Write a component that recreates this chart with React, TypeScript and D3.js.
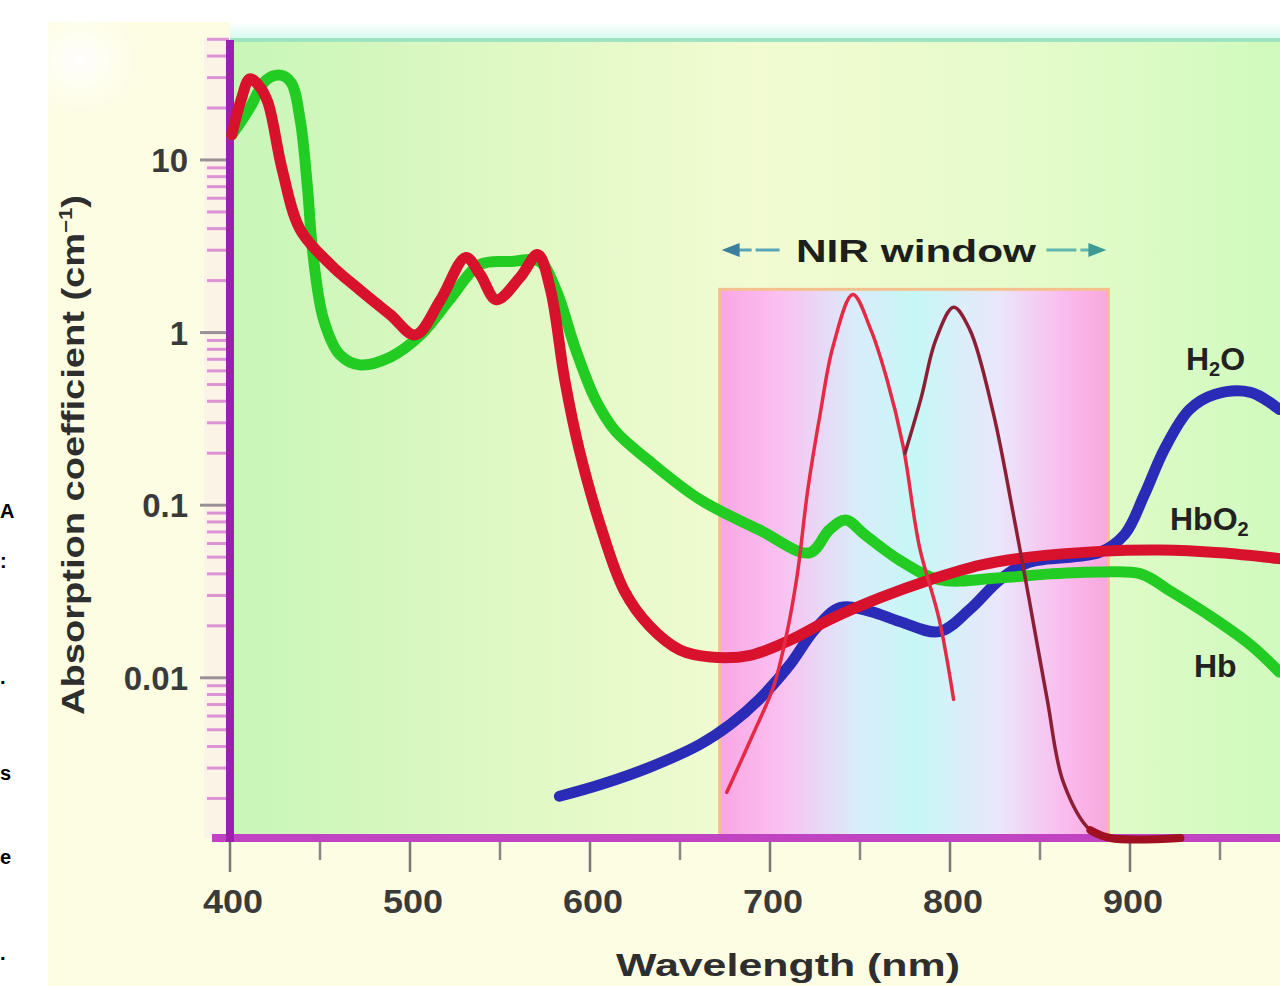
import React from "react";
import * as d3 from "d3";

// wavelength (nm), absorption coefficient (cm^-1)
const hbData: [number, number][] = [
  [401, 14], [405, 16], [411, 20], [420, 29], [428, 31], [434, 28], [439, 17], [443, 7.0],
  [446, 2.9], [452, 1.19], [461, 0.745], [472, 0.65], [489, 0.72], [506, 0.97],
  [522, 1.55], [539, 2.48], [556, 2.58], [572, 2.58], [581, 1.78], [592, 0.8],
  [603, 0.41], [614, 0.27], [633, 0.18], [661, 0.108], [694, 0.072], [722, 0.053],
  [733, 0.072], [742, 0.082], [753, 0.067], [772, 0.048], [794, 0.037], [828, 0.038],
  [856, 0.04], [883, 0.041], [906, 0.04], [922, 0.032], [944, 0.023], [967, 0.0155],
  [983, 0.0108],
];

const hbo2Data: [number, number][] = [
  [401, 14], [406, 22], [411, 29.5], [416, 27], [421, 21.6], [429, 8.8], [439, 3.95],
  [456, 2.47], [472, 1.77], [489, 1.27], [503, 0.97], [517, 1.55], [531, 2.72],
  [539, 2.17], [548, 1.55], [561, 2.08], [571, 2.83], [578, 1.78], [586, 0.53],
  [594, 0.21], [606, 0.075], [619, 0.032], [633, 0.02], [650, 0.0145], [667, 0.0132],
  [689, 0.0135], [711, 0.0165], [733, 0.0217], [761, 0.029], [789, 0.037], [817, 0.045],
  [844, 0.05], [883, 0.054], [917, 0.055], [950, 0.053], [983, 0.049],
];

const h2oData: [number, number][] = [
  [583, 0.00206], [606, 0.00241], [633, 0.00303], [661, 0.00411], [678, 0.00537],
  [694, 0.0075], [711, 0.0119], [725, 0.0191], [739, 0.0255], [756, 0.0242],
  [772, 0.0212], [794, 0.0185], [811, 0.0249], [828, 0.0372], [844, 0.0466],
  [883, 0.0532], [897, 0.0676], [908, 0.115], [919, 0.21], [933, 0.358], [947, 0.438],
  [967, 0.45], [983, 0.358],
];

const fluor1Data: [number, number][] = [
  [676, 0.00217], [691, 0.00482], [702, 0.0089], [709, 0.0174], [715, 0.0386],
  [721, 0.123], [728, 0.344], [735, 0.83], [746, 1.66], [756, 1.04], [765, 0.534],
  [774, 0.219], [783, 0.0576], [794, 0.0218], [802, 0.0075],
];

const fluor2Data: [number, number][] = [
  [775, 0.2], [784, 0.42], [792, 0.9], [802, 1.4], [811, 1.04],
  [824, 0.344], [835, 0.091], [844, 0.0283], [854, 0.0075], [863, 0.00248],
  [878, 0.00131], [889, 0.00118], [928, 0.00118],
];

const nirWindow = [672, 888];
const nirTop = 1.78;

const xTicks = [400, 500, 600, 700, 800, 900, 1000];
const xMinorTicks = [450, 550, 650, 750, 850, 950];
const yTicks = [10, 1, 0.1, 0.01];
const yTickLabels = ["10", "1", "0.1", "0.01"];

const sideText = [
  { t: "A", y: 518 },
  { t: ":", y: 568 },
  { t: ".", y: 684 },
  { t: "s", y: 780 },
  { t: "e", y: 864 },
  { t: ".", y: 960 },
];

const W = 1280;
const H = 986;
const left = 230;
const bottom = 838;
const top = 40;

const x = d3.scaleLinear().domain([400, 1000]).range([left, 1310]);
const y = d3.scaleLog().domain([0.00118, 50]).range([bottom, 39.3]);

const line = d3
  .line<[number, number]>()
  .x((d) => x(d[0]))
  .y((d) => y(d[1]))
  .curve(d3.curveCatmullRom.alpha(0.5));

// minor log ticks
const yMinor: number[] = [];
for (let e = -3; e <= 1; e++) {
  for (let k = 1; k <= 9; k++) {
    const v = k * Math.pow(10, e);
    if (v >= 0.0012 && v <= 50 && k !== 1) yMinor.push(v);
  }
}

const bold = "'Liberation Sans', Arial, sans-serif";

export default function App() {
  const nx0 = x(nirWindow[0]);
  const nx1 = x(nirWindow[1]);
  const ny = y(nirTop);
  return (
    <div style={{ position: "absolute", left: 0, top: 0 }}>
      <svg width={W} height={H} style={{ display: "block" }}>
        <defs>
          <linearGradient id="plotbg" x1="0" x2="1" y1="0" y2="0">
            <stop offset="0%" stopColor="#c8f6b8" />
            <stop offset="30%" stopColor="#e2f9c6" />
            <stop offset="50%" stopColor="#f2fbd2" />
            <stop offset="75%" stopColor="#e6fbcb" />
            <stop offset="100%" stopColor="#d0fabe" />
          </linearGradient>
          <linearGradient id="nirbg" x1="0" x2="1" y1="0" y2="0">
            <stop offset="0%" stopColor="#f9a6e4" />
            <stop offset="15%" stopColor="#fbbff0" />
            <stop offset="35%" stopColor="#d9ecfa" />
            <stop offset="50%" stopColor="#c6f7f6" />
            <stop offset="72%" stopColor="#ebe6fb" />
            <stop offset="90%" stopColor="#fbb8ec" />
            <stop offset="100%" stopColor="#f8a8dc" />
          </linearGradient>
          <linearGradient id="topband" x1="0" x2="0" y1="0" y2="1">
            <stop offset="0%" stopColor="#ffffff" />
            <stop offset="100%" stopColor="#d2f9ee" />
          </linearGradient>
          <radialGradient id="cornerfade" cx="0.5" cy="0.5" r="0.5">
            <stop offset="0%" stopColor="#ffffff" stopOpacity={0.9} />
            <stop offset="100%" stopColor="#ffffff" stopOpacity={0} />
          </radialGradient>
          <clipPath id="plotclip">
            <rect x={left - 4} y={top - 2} width={W - left + 4} height={bottom - top + 8} />
          </clipPath>
        </defs>

        <rect x={0} y={0} width={W} height={H} fill="#ffffff" />
        <rect x={48} y={22} width={W - 48} height={H - 22} fill="#fdfde4" />
        <ellipse cx={80} cy={60} rx={60} ry={55} fill="url(#cornerfade)" />
        <rect x={left} y={22} width={W - left} height={top - 22} fill="url(#topband)" />

        {sideText.map((s, i) => (
          <text
            key={i}
            x={0}
            y={s.y}
            textAnchor="start"
            fontFamily={bold}
            fontWeight="bold"
            fontSize={20}
            fill="#000"
          >
            {s.t}
          </text>
        ))}

        {/* plot area */}
        <rect x={left} y={top} width={W - left} height={bottom - top} fill="url(#plotbg)" />
        <line x1={left} x2={W} y1={top} y2={top} stroke="#9ee4c0" strokeWidth={4} />

        {/* NIR window */}
        <rect
          x={nx0}
          y={ny}
          width={nx1 - nx0}
          height={bottom - ny}
          fill="url(#nirbg)"
          stroke="#f4c08e"
          strokeWidth={3}
        />
        <g>
          <line x1={nx0 + 14} x2={nx0 + 60} y1={250} y2={250} stroke="#5aa6b8" strokeWidth={3} strokeDasharray="18 4 30" />
          <polygon
            points={`${nx0 + 2},250 ${nx0 + 20},243 ${nx0 + 20},257`}
            fill="#3b7f9e"
          />
          <line x1={nx1 - 62} x2={nx1 - 14} y1={250} y2={250} stroke="#5fb7b0" strokeWidth={3} strokeDasharray="30 4 18" />
          <polygon
            points={`${nx1 - 2},250 ${nx1 - 20},243 ${nx1 - 20},257`}
            fill="#3f9a94"
          />
          <text
            x={(nx0 + nx1) / 2 + 2}
            y={262}
            textAnchor="middle"
            fontFamily={bold}
            fontWeight="bold"
            fontSize={32}
            fill="#1c1f1c"
            textLength={240}
            lengthAdjust="spacingAndGlyphs"
          >
            NIR window
          </text>
        </g>

        {/* y axis ticks */}
        <rect x={204} y={top} width={24} height={bottom - top} fill="#fbd8ee" opacity={0.25} />
        {yMinor.map((v, i) => (
          <line
            key={i}
            x1={207}
            x2={229}
            y1={y(v)}
            y2={y(v)}
            stroke="#d77ad2"
            strokeWidth={3}
            opacity={0.8}
          />
        ))}
        {yTicks.map((v, i) => (
          <g key={i}>
            <line x1={200} x2={229} y1={y(v)} y2={y(v)} stroke="#9a8f98" strokeWidth={3} />
            <text
              x={188}
              y={y(v) + 12}
              textAnchor="end"
              fontFamily={bold}
              fontWeight="bold"
              fontSize={33}
              fill="#3a3a3a"
            >
              {yTickLabels[i]}
            </text>
          </g>
        ))}

        {/* x axis ticks */}
        {xMinorTicks.map((v) => (
          <line key={v} x1={x(v)} x2={x(v)} y1={bottom} y2={bottom + 22} stroke="#8a8585" strokeWidth={2.5} />
        ))}
        {xTicks.map((v) => (
          <g key={v}>
            <line x1={x(v)} x2={x(v)} y1={bottom} y2={bottom + 34} stroke="#7a7676" strokeWidth={2.5} />
            <text
              x={x(v) + 3}
              y={913}
              textAnchor="middle"
              fontFamily={bold}
              fontWeight="bold"
              fontSize={33}
              fill="#3a3a3a"
              textLength={60}
              lengthAdjust="spacingAndGlyphs"
            >
              {v}
            </text>
          </g>
        ))}

        {/* axes */}
        <line x1={left - 18} x2={W} y1={bottom} y2={bottom} stroke="#c043c2" strokeWidth={8} />
        <line x1={left} x2={left} y1={top} y2={bottom + 4} stroke="#9c1fae" strokeWidth={8} />

        {/* curves */}
        <g clipPath="url(#plotclip)" fill="none" strokeLinecap="round" strokeLinejoin="round">
          <path d={line(h2oData) ?? ""} stroke="#2a2cb8" strokeWidth={11} />
          <path d={line(hbData) ?? ""} stroke="#22cc22" strokeWidth={11} />
          <path d={line(hbo2Data) ?? ""} stroke="#d8112c" strokeWidth={11} />
          <path d={line(fluor1Data) ?? ""} stroke="#e42a44" strokeWidth={3.5} />
          <path d={line(fluor2Data) ?? ""} stroke="#8c1f35" strokeWidth={3.5} />
          <path
            d={line(fluor2Data.filter((d) => d[0] >= 878)) ?? ""}
            stroke="#a01020"
            strokeWidth={8}
          />
        </g>

        {/* series labels */}
        <g fontFamily={bold} fontWeight="bold" fill="#222">
          <text x={1186} y={370} fontSize={32}>
            H<tspan fontSize={20} dy={6}>2</tspan>
            <tspan dy={-6}>O</tspan>
          </text>
          <text x={1170} y={530} fontSize={32}>
            HbO<tspan fontSize={20} dy={6}>2</tspan>
          </text>
          <text x={1194} y={677} fontSize={32}>Hb</text>
        </g>

        {/* axis titles */}
        <text
          x={788}
          y={976}
          textAnchor="middle"
          fontFamily={bold}
          fontWeight="bold"
          fontSize={32}
          fill="#2e2e2e"
          textLength={344}
          lengthAdjust="spacingAndGlyphs"
        >
          Wavelength (nm)
        </text>
        <text
          transform="translate(84,455) rotate(-90)"
          textAnchor="middle"
          fontFamily={bold}
          fontWeight="bold"
          fontSize={31}
          fill="#2e2e2e"
          textLength={520}
          lengthAdjust="spacingAndGlyphs"
        >
          Absorption coefficient (cm<tspan fontSize={18} dy={-12}>−1</tspan>
          <tspan dy={12}>)</tspan>
        </text>
      </svg>
    </div>
  );
}
